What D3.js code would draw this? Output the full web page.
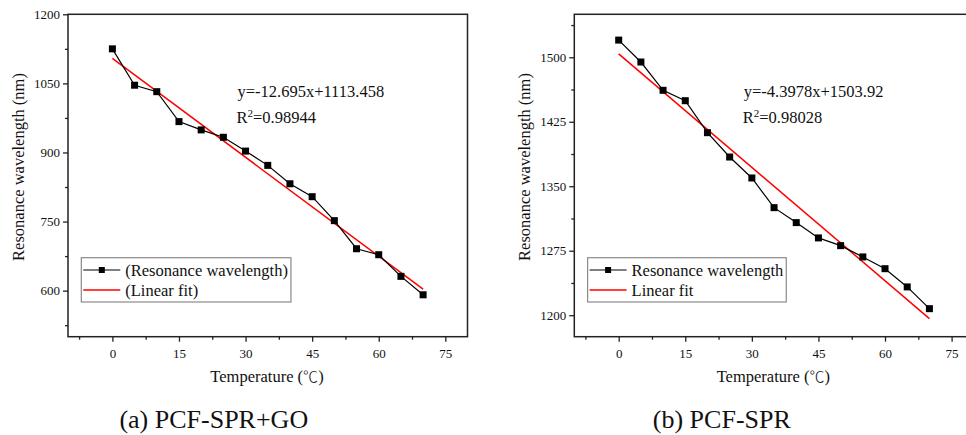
<!DOCTYPE html>
<html>
<head>
<meta charset="utf-8">
<script src="https://cdn.jsdelivr.net/npm/d3@7"></script>
<style>
  body { margin: 0; background: #fff; }
  svg { display: block; }
  text { font-family: "Liberation Serif", "Times New Roman", serif; fill: #111; }
</style>
</head>
<body>
<svg id="chart" width="966" height="435"></svg>
<script>
// Temperature sweep (°C)
const temperature = [0, 5, 10, 15, 20, 25, 30, 35, 40, 45, 50, 55, 60, 65, 70];

// Resonance wavelength (nm), PCF-SPR with graphene oxide
const wavelengthGO = [1125, 1046, 1032, 967, 949, 933, 903, 872, 832, 804, 752, 691, 678, 631, 591];

// Resonance wavelength (nm), bare PCF-SPR
const wavelengthBare = [1520, 1494.5, 1461.6, 1449.5, 1412.3, 1384, 1359.6, 1325.1, 1307.7, 1289.9, 1280.9, 1267.8, 1254.1, 1232.9, 1207.6];

// Axis ticks
const xTicks = [0, 15, 30, 45, 60, 75];
const xDomain = [-10, 80];
const yTicksGO = [600, 750, 900, 1050, 1200];
const yDomainGO = [500, 1200];
const yTicksBare = [1200, 1275, 1350, 1425, 1500];
const yDomainBare = [1175, 1550];

// Fit annotations
const eqTextGO = ["y=-12.695x+1113.458", "0.98944"];
const eqTextBare = ["y=-4.3978x+1503.92", "0.98028"];
const fitBare = [-4.3978, 1503.92]; // slope, intercept

// Legend labels and captions
const legendGO = ["(Resonance wavelength)", "(Linear fit)"];
const legendBare = ["Resonance wavelength", "Linear fit"];
const captions = ["(a) PCF-SPR+GO", "(b) PCF-SPR"];

// Ordinary least squares line through the measured points
function leastSquares(xs, ys) {
  const mx = d3.mean(xs), my = d3.mean(ys);
  let sxy = 0, sxx = 0;
  xs.forEach((x, i) => { sxy += (x - mx) * (ys[i] - my); sxx += (x - mx) * (x - mx); });
  const slope = sxy / sxx;
  return [slope, my - slope * mx];
}

const svg = d3.select("#chart");
const TOP = 14.3, BOTTOM = 336.7, WIDTH = 399.5;
const fmt = d3.format("d");

function panel(cfg) {
  const left = cfg.left, right = left + WIDTH;
  const g = svg.append("g");

  const x = d3.scaleLinear().domain(xDomain).range([left, right]);
  const y = d3.scaleLinear().domain(cfg.yDomain).range([BOTTOM, TOP]);

  // minor ticks halfway between the labelled ones
  const xMinor = d3.range(-7.5, 80, 15);
  const yStep = cfg.yTicks[1] - cfg.yTicks[0];
  const yMinor = d3.range(cfg.yTicks[0] - yStep / 2, cfg.yDomain[1], yStep).filter(v => v > cfg.yDomain[0]);

  g.append("g").attr("transform", `translate(0,${BOTTOM})`)
    .call(d3.axisBottom(x).tickValues(xTicks).tickFormat(fmt).tickSize(5).tickPadding(7));
  g.append("g").attr("transform", `translate(0,${BOTTOM})`)
    .call(d3.axisBottom(x).tickValues(xMinor).tickSize(3).tickFormat(""));
  g.append("g").attr("transform", `translate(${left},0)`)
    .call(d3.axisLeft(y).tickValues(cfg.yTicks).tickFormat(fmt).tickSize(5).tickPadding(3));
  g.append("g").attr("transform", `translate(${left},0)`)
    .call(d3.axisLeft(y).tickValues(yMinor).tickSize(3).tickFormat(""));

  g.selectAll(".domain").remove();
  g.selectAll(".tick line").attr("stroke", "#222").attr("stroke-width", 1.3);
  g.selectAll(".tick text").style("font-family", "'Liberation Serif', serif")
    .style("font-size", "13px").style("fill", "#111");

  // frame
  g.append("rect")
    .attr("x", left).attr("y", TOP)
    .attr("width", WIDTH).attr("height", BOTTOM - TOP)
    .attr("fill", "none").attr("stroke", "#222").attr("stroke-width", 1.5);

  // linear fit
  const [slope, intercept] = cfg.fit;
  const x0 = d3.min(temperature), x1 = d3.max(temperature);
  g.append("line")
    .attr("x1", x(x0)).attr("y1", y(slope * x0 + intercept))
    .attr("x2", x(x1)).attr("y2", y(slope * x1 + intercept))
    .attr("stroke", "#ff0000").attr("stroke-width", 1.5);

  // measured data
  const pts = temperature.map((t, i) => [t, cfg.values[i]]);
  g.append("path")
    .attr("d", d3.line().x(d => x(d[0])).y(d => y(d[1]))(pts))
    .attr("fill", "none").attr("stroke", "#000").attr("stroke-width", 1.2);
  const m = 7;
  g.selectAll("rect.pt").data(pts).join("rect").attr("class", "pt")
    .attr("x", d => x(d[0]) - m / 2).attr("y", d => y(d[1]) - m / 2)
    .attr("width", m).attr("height", m).attr("fill", "#000");

  // fit equation
  const ex = left + 169.5;
  g.append("text").attr("x", ex).attr("y", 96.7).attr("font-size", 16.5).text(cfg.eq[0]);
  const r2 = g.append("text").attr("x", ex - 1).attr("y", 122.7).attr("font-size", 16.5);
  r2.append("tspan").text("R");
  r2.append("tspan").attr("font-size", 11).attr("dy", -6).text("2");
  r2.append("tspan").attr("dy", 6).text("=" + cfg.eq[1]);

  // legend
  const lx = left + 13.3, ly = 257.7;
  const lg = g.append("g");
  const box = lg.append("rect").attr("x", lx).attr("y", ly).attr("height", 44.3)
    .attr("fill", "#fff").attr("stroke", "#8a8a8a").attr("stroke-width", 1.2);
  const rows = [12.3, 32.3];
  lg.append("line").attr("x1", lx + 2).attr("x2", lx + 39).attr("y1", ly + rows[0]).attr("y2", ly + rows[0])
    .attr("stroke", "#000").attr("stroke-width", 1.2);
  lg.append("rect").attr("x", lx + 20.5 - 3).attr("y", ly + rows[0] - 3).attr("width", 6).attr("height", 6).attr("fill", "#000");
  lg.append("line").attr("x1", lx + 2).attr("x2", lx + 39).attr("y1", ly + rows[1]).attr("y2", ly + rows[1])
    .attr("stroke", "#ff0000").attr("stroke-width", 1.5);
  let maxW = 0;
  cfg.legend.forEach((lab, i) => {
    const t = lg.append("text").attr("x", lx + 44).attr("y", ly + rows[i] + 5.5).attr("font-size", 16.5).text(lab);
    maxW = Math.max(maxW, t.node().getComputedTextLength());
  });
  box.attr("width", 44 + maxW + 3);

  // axis titles
  const xt = g.append("text").attr("x", left + 199).attr("y", 381.7).attr("text-anchor", "middle")
    .attr("font-size", 16.5);
  xt.append("tspan").text("Temperature (");
  xt.append("tspan").style("font-family", "'Noto Sans CJK SC', sans-serif").style("font-weight", 300)
    .attr("font-size", 15).text("℃");
  xt.append("tspan").text(")");
  g.append("text").attr("transform", `translate(${left - 44.5},167) rotate(-90)`)
    .attr("text-anchor", "middle").attr("font-size", 16.5).text("Resonance wavelength (nm)");

  // caption
  g.append("text").attr("x", cfg.capX).attr("y", 428).attr("text-anchor", "middle")
    .attr("font-size", 26).text(cfg.caption);
}

panel({
  left: 68, yDomain: yDomainGO, yTicks: yTicksGO, values: wavelengthGO,
  fit: leastSquares(temperature, wavelengthGO), eq: eqTextGO, legend: legendGO,
  caption: captions[0], capX: 213.8
});
panel({
  left: 574.3, yDomain: yDomainBare, yTicks: yTicksBare, values: wavelengthBare,
  fit: fitBare, eq: eqTextBare, legend: legendBare,
  caption: captions[1], capX: 721.8
});
</script>
</body>
</html>
